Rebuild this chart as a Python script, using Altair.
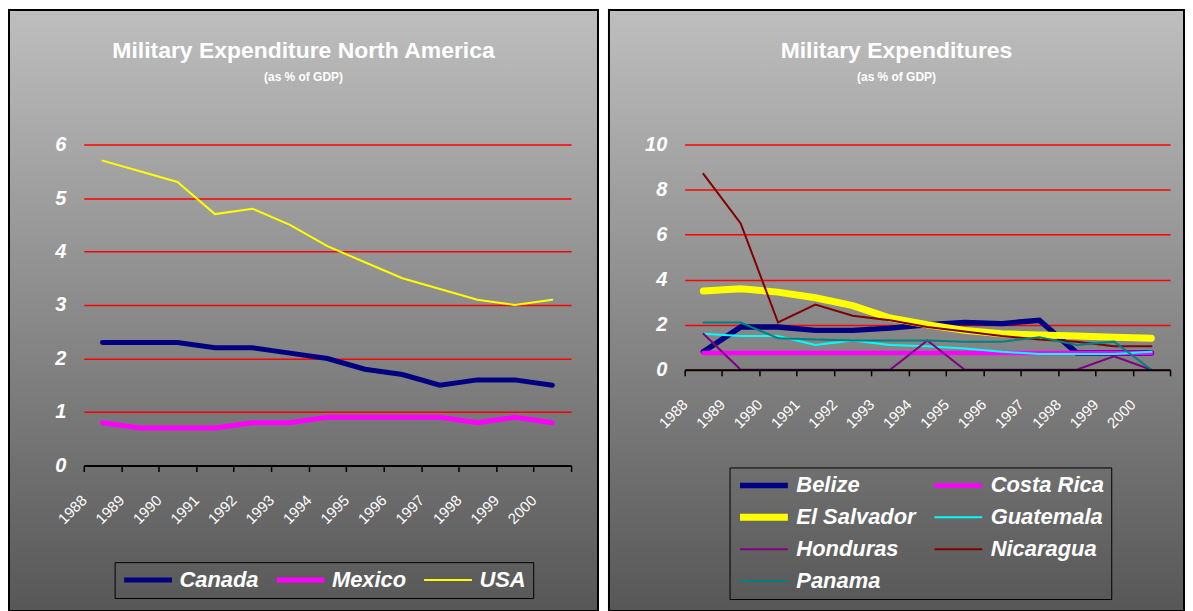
import altair as alt
import pandas as pd

FONT = "Liberation Sans"

# ---------------- data ----------------
years = list(range(1988, 2001))

na_countries = ["Canada", "Mexico", "USA"]
na_colors = ["#000080", "#ff00ff", "#ffff00"]
canada = [2.3, 2.3, 2.3, 2.2, 2.2, 2.1, 2.0, 1.8, 1.7, 1.5, 1.6, 1.6, 1.5]
mexico = [0.8, 0.7, 0.7, 0.7, 0.8, 0.8, 0.9, 0.9, 0.9, 0.9, 0.8, 0.9, 0.8]
usa = [5.7, 5.5, 5.3, 4.7, 4.8, 4.5, 4.1, 3.8, 3.5, 3.3, 3.1, 3.0, 3.1]

ca_countries = ["Belize", "Costa Rica", "El Salvador", "Guatemala",
                "Honduras", "Nicaragua", "Panama"]
ca_colors = ["#000080", "#ff00ff", "#ffff00", "#00ffff",
             "#800080", "#800000", "#008080"]
belize = [0.8, 1.9, 1.9, 1.75, 1.75, 1.85, 2.0, 2.1, 2.05, 2.2, 0.75, 0.75, 0.75]
costa_rica = [0.75, 0.75, 0.75, 0.75, 0.75, 0.75, 0.75, 0.75, 0.75, 0.75, 0.75, 0.75, 0.75]
el_salvador = [3.5, 3.6, 3.45, 3.2, 2.85, 2.3, 2.0, 1.75, 1.6, 1.55, 1.5, 1.45, 1.4]
guatemala = [1.6, 1.5, 1.5, 1.1, 1.3, 1.1, 1.05, 0.95, 0.8, 0.7, 0.7, 0.7, 0.8]
honduras = [1.6, 0, 0, 0, 0, 0, 1.3, 0, 0, 0, 0, 0.6, 0]
nicaragua = [8.7, 6.5, 2.1, 2.9, 2.4, 2.2, 1.9, 1.7, 1.5, 1.35, 1.25, 1.05, 1.05]
panama = [2.1, 2.1, 1.4, 1.35, 1.3, 1.3, 1.3, 1.25, 1.25, 1.45, 1.1, 1.25, 0]


def long_df(countries, series):
    rows = []
    for c, vals in zip(countries, series):
        for yr, v in zip(years, vals):
            rows.append({"country": c, "year": yr, "value": v})
    return pd.DataFrame(rows)


na_df = long_df(na_countries, [canada, mexico, usa])
ca_df = long_df(ca_countries, [belize, costa_rica, el_salvador, guatemala,
                               honduras, nicaragua, panama])

tick_vals = [y - 0.5 for y in years] + [years[-1] + 0.5]

H = 603


def panel(df, countries, colors, widths, title, ymax, ystep, W,
          px0, px1, py0, py1, lx, ly, cols):
    legend = alt.Legend(
        orient="none", legendX=lx, legendY=ly, columns=cols,
        direction="horizontal", title=None,
        symbolType="stroke", symbolSize=2304, clipHeight=22,
        labelFont=FONT, labelFontSize=22, labelFontStyle="italic",
        labelFontWeight="bold", labelColor="white", labelOffset=5,
        labelLimit=400, columnPadding=15, rowPadding=10, padding=7,
        strokeColor="black",
    )
    x = alt.X(
        "year:Q",
        scale=alt.Scale(domain=[years[0] - 0.5, years[-1] + 0.5],
                        range=[px0, px1], nice=False, zero=False),
        axis=alt.Axis(
            values=tick_vals,
            labelExpr="datum.value < 2000.2 ? format(datum.value + 0.5, 'd') : ''",
            labelAngle=-45, labelAlign="right", labelBaseline="middle",
            labelPadding=26, labelFont=FONT, labelFontSize=15,
            labelColor="white", labelOverlap=False, labelFlush=False,
            domainColor="black", domainWidth=2, tickColor="black",
            tickWidth=1.5, tickSize=6, grid=False, offset=-(H - py0),
            zindex=1, title=None,
        ),
    )
    y = alt.Y(
        "value:Q",
        scale=alt.Scale(domain=[0, ymax], range=[py0, py1], nice=False),
        axis=alt.Axis(
            values=list(range(0, ymax + 1, ystep)), grid=True,
            gridColor="#ff0000", gridWidth=1.5, domain=False, ticks=False,
            labelPadding=18, labelFont=FONT, labelFontSize=20,
            labelFontStyle="italic", labelFontWeight="bold",
            labelColor="white", offset=-px0, title=None, zindex=0,
        ),
    )
    return alt.Chart(df).mark_line(strokeCap="round").encode(
        x=x,
        y=y,
        color=alt.Color("country:N",
                        scale=alt.Scale(domain=countries, range=colors),
                        legend=legend),
        strokeWidth=alt.StrokeWidth("country:N",
                                    scale=alt.Scale(type="ordinal",
                                                    domain=countries,
                                                    range=widths),
                                    legend=legend),
        detail="country:N",
    ).properties(
        width=W, height=H,
        title=alt.TitleParams(
            text=title, subtitle="(as % of GDP)", anchor="middle",
            frame="group", offset=-73, font=FONT, fontSize=23,
            fontWeight="bold", color="white", subtitleFont=FONT,
            subtitleFontSize=12, subtitleFontWeight="bold",
            subtitleColor="white", subtitlePadding=9,
        ),
    )


left = panel(na_df, na_countries, na_colors, [5, 5, 2],
             "Military Expenditure North America", 6, 1, 591,
             75, 564, 457, 135, 106, 554, 3)
right = panel(ca_df, ca_countries, ca_colors, [5.5, 4.5, 7, 2, 2, 2, 2],
              "Military Expenditures", 10, 2, 577,
              76, 563, 361, 135, 121, 459, 2)

grad = {"expr": "{gradient: 'linear', x1: 0, y1: 0, x2: 0, y2: 1, "
                "stops: [{offset: 0, color: '#bebebe'}, {offset: 1, color: '#575757'}]}"}

chart = alt.hconcat(left, right, spacing=9).resolve_scale(
    color="independent", strokeWidth="independent"
).resolve_legend(
    color="independent", strokeWidth="independent"
).properties(
    padding=0, background="white"
).configure_view(fill=grad, stroke="black", strokeWidth=2)

chart.save("out.html", embed_options={"renderer": "svg", "actions": False})
